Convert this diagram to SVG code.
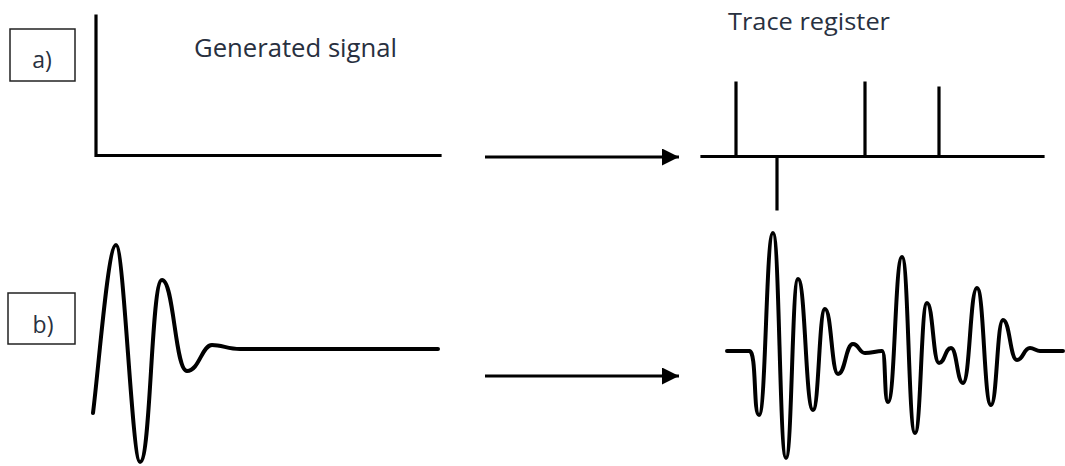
<svg xmlns="http://www.w3.org/2000/svg" width="1065" height="466" viewBox="0 0 1065 466">
<style>
.lbl{font-family:"Open Sans","Liberation Sans",sans-serif;fill:#283040}
.box{fill:#fff;stroke:#222;stroke-width:1.5}
.ax{stroke:#000;stroke-width:3.2;fill:none;stroke-linecap:square}
.wave{stroke:#000;stroke-width:4;fill:none;stroke-linejoin:round;stroke-linecap:round}
.conn{stroke:#000;stroke-width:3;fill:none}
</style>
<defs>
<marker id="ah" markerWidth="17" markerHeight="17" viewBox="0 0 17 17" refX="17" refY="8.5" orient="auto" markerUnits="userSpaceOnUse">
<path d="M0,0 L17,8.5 L0,17 Z" fill="#000"/>
</marker>
</defs>
<rect width="1065" height="466" fill="#fff"/>
<g id="label-a">
<rect class="box" x="10" y="29" width="65" height="52"/>
<text class="lbl" x="42" y="68" font-size="23" text-anchor="middle">a)</text>
</g>
<g id="label-b">
<rect class="box" x="8" y="293" width="67" height="51"/>
<text class="lbl" x="43" y="333" font-size="23" text-anchor="middle">b)</text>
</g>
<g id="generated-a">
<text class="lbl" x="194" y="57" font-size="26" textLength="203" lengthAdjust="spacingAndGlyphs">Generated signal</text>
<path class="ax" d="M96,16 L96,155.5 L440,155.5"/>
</g>
<g id="trace-a">
<text class="lbl" x="728" y="30" font-size="23" textLength="162" lengthAdjust="spacingAndGlyphs">Trace register</text>
<path class="ax" d="M702,156.5 L1043,156.5 M736,83 L736,156.5 M865,83 L865,156.5 M939,88 L939,156.5 M777,156.5 L777,209"/>
</g>
<g id="generated-b">
<path class="wave" d="M93,413 C99,365 108,245 116,245 C124,245 132,462 140,462 C151,462 151,280 162,280 C174,280 175,371 187,371 C199,371 202,345 212,345 C222,345 228,349 240,349 L438,349"/>
</g>
<g id="trace-b">
<path class="wave" d="M727,351 L749,351 C757,349 753,415 759,415 C766,415 766,233 773,233 C779.5,233 779.5,458 786,458 C792,458 792,279 798,279 C805.5,279 805.5,410 813,410 C819,410 819,309 825,309 C831.5,309 831.5,374 838,374 C845.5,374 845.5,344 853,344 C859,344 859,353 865,353 C872,353 876,351 882,351 C886,351 884,402 888,402 C895,402 895,257 902,257 C908.5,257 908.5,433 915,433 C921,433 921,303 927,303 C933,303 933,363 939,363 C945,363 945,348 951,348 C957,348 957,383 963,383 C970,383 970,288 977,288 C984,288 984,405 991,405 C997,405 997,320 1003,320 C1010,320 1010,360 1017,360 C1023.5,360 1023.5,348 1030,348 C1034,348 1036,351 1040,351 L1063,351"/>
</g>
<g id="connectors">
<line class="conn" x1="485" y1="157" x2="679" y2="157" marker-end="url(#ah)"/>
<line class="conn" x1="485" y1="376" x2="679" y2="376" marker-end="url(#ah)"/>
</g>
</svg>
